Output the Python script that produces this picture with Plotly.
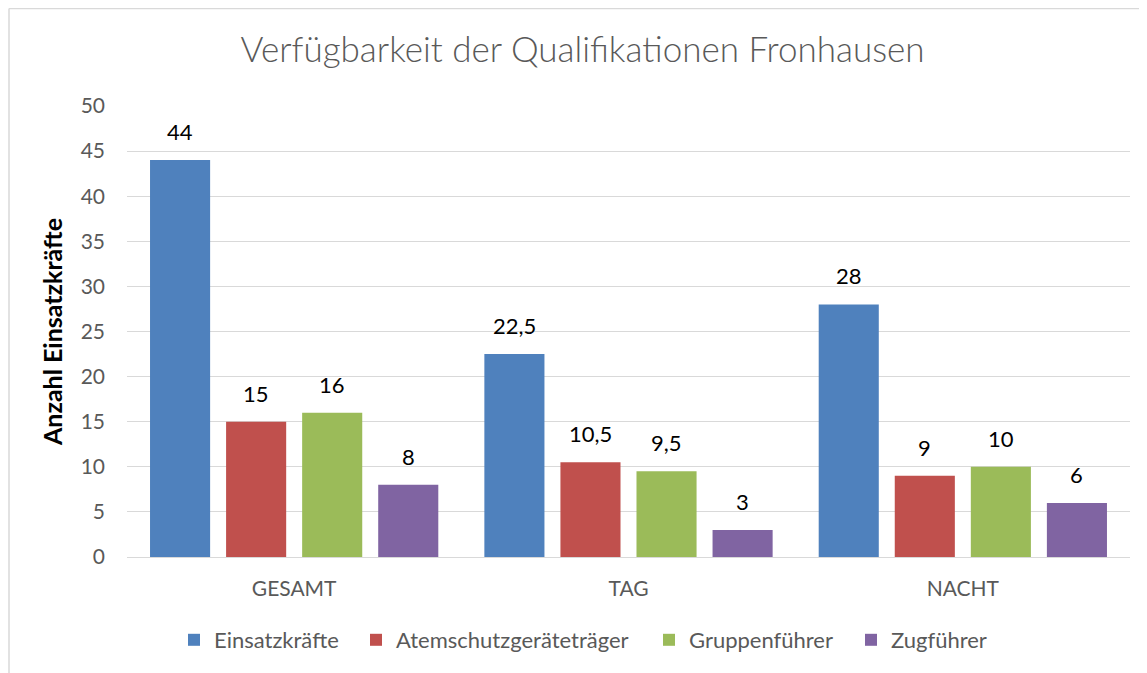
import plotly.graph_objects as go

categories = ["GESAMT", "TAG", "NACHT"]
series_names = ["Einsatzkräfte", "Atemschutzgeräteträger", "Gruppenführer", "Zugführer"]
einsatzkraefte = [44, 22.5, 28]
atemschutz = [15, 10.5, 9]
gruppenfuehrer = [16, 9.5, 10]
zugfuehrer = [8, 3, 6]
colors = ["#4F81BD", "#C0504D", "#9BBB59", "#8064A2"]
y_ticks = [0, 5, 10, 15, 20, 25, 30, 35, 40, 45, 50]

all_series = [einsatzkraefte, atemschutz, gruppenfuehrer, zugfuehrer]

FONT = "Lato"
W, H = 1139, 665
L, R, T, B = 119, 17, 98, 116
PW, PH = W - L - R, H - T - B
OFF = 8  # page body margin

# left edge of each legend symbol (page px)
legend_square_left = [188, 370, 663, 865]
legend_ids = ["legend", "legend2", "legend3", "legend4"]


def fmt(v):
    return ("%g" % v).replace(".", ",")


fig = go.Figure()
for name, vals, col, lid in zip(series_names, all_series, colors, legend_ids):
    fig.add_trace(go.Bar(x=categories, y=vals, name=name, marker_color=col,
                         marker_line_width=0, legend=lid, showlegend=True))

annotations = []
n = len(all_series)
slot = PW / len(categories) * (1 - 0.09) / n
for i, vals in enumerate(all_series):
    for cat, v in zip(categories, vals):
        annotations.append(dict(x=cat, y=v, xref="x", yref="y", text=fmt(v),
                                showarrow=False, xshift=(i - (n - 1) / 2) * slot,
                                yanchor="bottom", yshift=13,
                                font=dict(family=FONT, size=22, color="#000000")))

legend_layouts = {}
for lid, sq in zip(legend_ids, legend_square_left):
    legend_layouts[lid] = dict(
        orientation="h", x=(sq - OFF - 14 - L) / PW, xanchor="left",
        y=(T + PH - (640 - OFF)) / PH, yanchor="middle",
        font=dict(family=FONT, size=22, color="#595959"),
        itemwidth=30, bgcolor="rgba(0,0,0,0)", borderwidth=0, visible=True)

fig.update_layout(
    width=W, height=H, showlegend=True,
    paper_bgcolor="white", plot_bgcolor="white",
    margin=dict(l=L, r=R, t=T, b=B),
    bargap=0.09, bargroupgap=0.21,
    title=dict(text="Verfügbarkeit der Qualifikationen Fronhausen",
               x=(582.5 - OFF - L) / PW, xref="paper", xanchor="center",
               y=1 - (50 - OFF) / H, yanchor="middle",
               font=dict(family=FONT, size=35, color="#595959", weight=300)),
    font=dict(family=FONT, color="#595959"),
    annotations=annotations,
    shapes=[
        dict(type="line", xref="paper", yref="paper", x0=(1 - L) / PW, x1=(W + 10 - L) / PW,
             y0=(PH + T - 0.5) / PH, y1=(PH + T - 0.5) / PH, line=dict(color="#d9d9d9", width=1.5)),
        dict(type="line", xref="paper", yref="paper", x0=(1 - L) / PW, x1=(1 - L) / PW,
             y0=(PH + T - 0.5) / PH, y1=-(B + 10) / PH, line=dict(color="#d9d9d9", width=1.5)),
    ],
    **legend_layouts,
)
fig.update_xaxes(showgrid=False, showline=True, linecolor="#d9d9d9", linewidth=1,
                 ticks="", tickfont=dict(family=FONT, size=21, color="#595959"),
                 ticklabelstandoff=13)
fig.update_yaxes(range=[0, 50], tickvals=y_ticks, showgrid=True, gridcolor="#d9d9d9",
                 gridwidth=1, zeroline=False, showline=False, ticks="",
                 tickfont=dict(family=FONT, size=21, color="#595959"),
                 ticklabelstandoff=21,
                 title=dict(text="<b>Anzahl Einsatzkräfte</b>", standoff=10,
                            font=dict(family=FONT, size=25, color="#000000")))

fig.write_html("out.html")
